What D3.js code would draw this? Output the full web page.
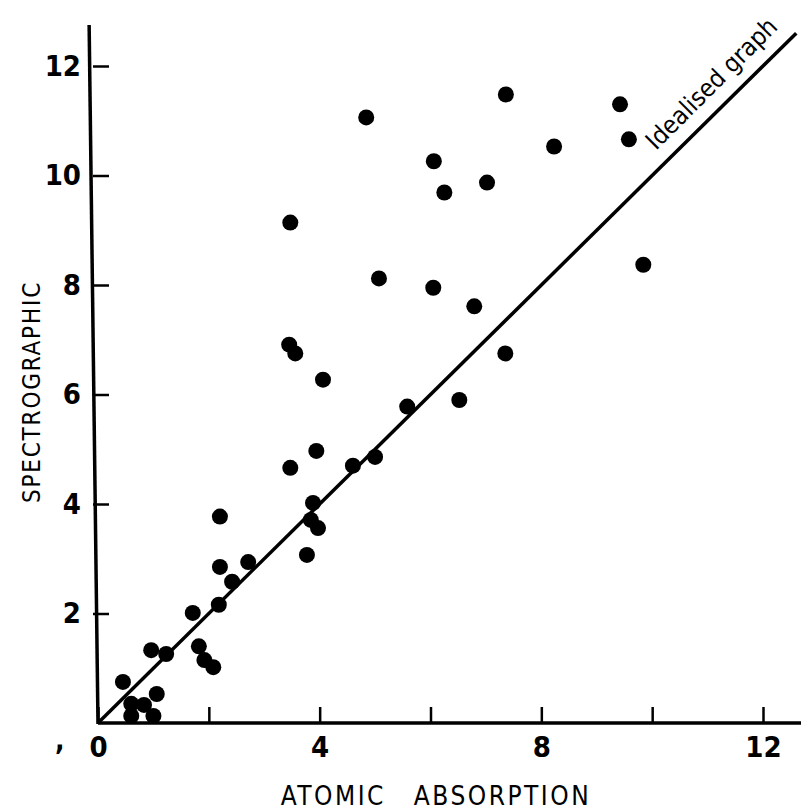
<!DOCTYPE html>
<html>
<head>
<meta charset="utf-8">
<script src="https://cdn.jsdelivr.net/npm/d3@7"></script>
<style>
  body { margin: 0; background: #fff; }
  svg { display: block; }
  text { font-family: "DejaVu Sans", sans-serif; font-stretch: condensed; fill: #000; }
</style>
</head>
<body>
<svg id="chart" width="801" height="811"></svg>
<script>
// atomic absorption (x) vs spectrographic (y) readings
const atomic = [4.84, 7.36, 9.42, 9.58, 8.23, 6.06, 6.25, 7.02, 3.47, 5.07,
  6.05, 6.79, 9.84, 3.45, 3.56, 4.06, 7.35, 5.58, 6.52, 3.47,
  3.94, 4.60, 5.00, 3.88, 3.84, 3.97, 3.77, 2.20, 2.20, 2.71,
  2.42, 2.18, 1.71, 0.96, 1.23, 1.82, 1.92, 2.08, 0.45, 1.06,
  0.60, 0.83, 0.60, 1.00];
const spectro = [11.06, 11.48, 11.30, 10.66, 10.53, 10.26, 9.69, 9.87, 9.14, 8.12,
  7.95, 7.61, 8.37, 6.91, 6.75, 6.27, 6.75, 5.78, 5.90, 4.66,
  4.97, 4.70, 4.86, 4.02, 3.71, 3.56, 3.07, 3.77, 2.85, 2.94,
  2.58, 2.16, 2.01, 1.33, 1.26, 1.40, 1.15, 1.02, 0.75, 0.53,
  0.35, 0.33, 0.13, 0.13];

const xTicks = [0, 2, 4, 6, 8, 10, 12];
const xLabels = [0, 4, 8, 12];
const yTicks = [2, 4, 6, 8, 10, 12];
const idealLine = [0, 12.6];

const svg = d3.select('#chart')

const x = d3.scaleLinear().domain([0, 12]).range([98, 763])
const y = d3.scaleLinear().domain([0, 12]).range([723, 66])

const labelFont = 'font-family: "DejaVu Sans Condensed", "DejaVu Sans", sans-serif; font-stretch: condensed;'

// axis lines
svg.append('line')
    .attr('x1', x(0)).attr('y1', y(0))
    .attr('x2', x(12.7)).attr('y2', y(0))
    .attr('stroke', '#000').attr('stroke-width', 3.5)

svg.append('line')
    .attr('x1', x(0)).attr('y1', y(0) + 1)
    .attr('x2', x(-0.16)).attr('y2', y(12.75))
    .attr('stroke', '#000').attr('stroke-width', 3.5)

// ticks
const xAxis = svg.append('g')
    .attr('transform', `translate(0,${y(0)})`)
    .call(d3.axisBottom(x)
        .tickValues(xTicks)
        .tickSize(-16)
        .tickFormat(d => xLabels.includes(d) ? d : ''))

xAxis.select('.domain').remove()
xAxis.selectAll('line').attr('stroke', '#000').attr('stroke-width', 2.5)
xAxis.selectAll('text')
    .attr('y', 13)
    .attr('dy', '0.71em')
    .attr('style', labelFont + ' font-weight: 600; font-size: 29px;')

const yAxis = svg.append('g')
    .attr('transform', `translate(${x(0) - 5},0)`)
    .call(d3.axisLeft(y)
        .tickValues(yTicks)
        .tickSize(-16))

yAxis.select('.domain').remove()
yAxis.selectAll('line').attr('stroke', '#000').attr('stroke-width', 2.5)
yAxis.selectAll('text')
    .attr('x', -12)
    .attr('style', labelFont + ' font-weight: 600; font-size: 29px;')

// idealised line y = x
svg.append('line')
    .attr('x1', x(idealLine[0])).attr('y1', y(idealLine[0]))
    .attr('x2', x(idealLine[1])).attr('y2', y(idealLine[1]))
    .attr('stroke', '#000').attr('stroke-width', 3.5)

svg.append('text')
    .attr('transform', 'translate(656,151) rotate(-45)')
    .attr('style', labelFont + ' font-size: 25px;')
    .text('Idealised  graph')

// points
svg.append('g')
    .selectAll('circle')
    .data(atomic)
    .enter()
    .append('circle')
    .attr('cx', d => x(d))
    .attr('cy', (d, i) => y(spectro[i]))
    .attr('r', 8)
    .attr('fill', '#000')

// axis titles
svg.append('text')
    .attr('x', 436)
    .attr('y', 805)
    .attr('text-anchor', 'middle')
    .attr('style', labelFont + ' font-size: 26px; letter-spacing: 2.5px; word-spacing: 18px;')
    .text('ATOMIC ABSORPTION')

svg.append('text')
    .attr('transform', 'translate(40,392) rotate(-90)')
    .attr('text-anchor', 'middle')
    .attr('style', labelFont + ' font-size: 24px; letter-spacing: 1.8px;')
    .text('SPECTROGRAPHIC')

// stray mark on the scan
svg.append('text')
    .attr('x', 55)
    .attr('y', 750)
    .attr('style', labelFont + ' font-weight: 600; font-size: 28px;')
    .text(',')
</script>
</body>
</html>
